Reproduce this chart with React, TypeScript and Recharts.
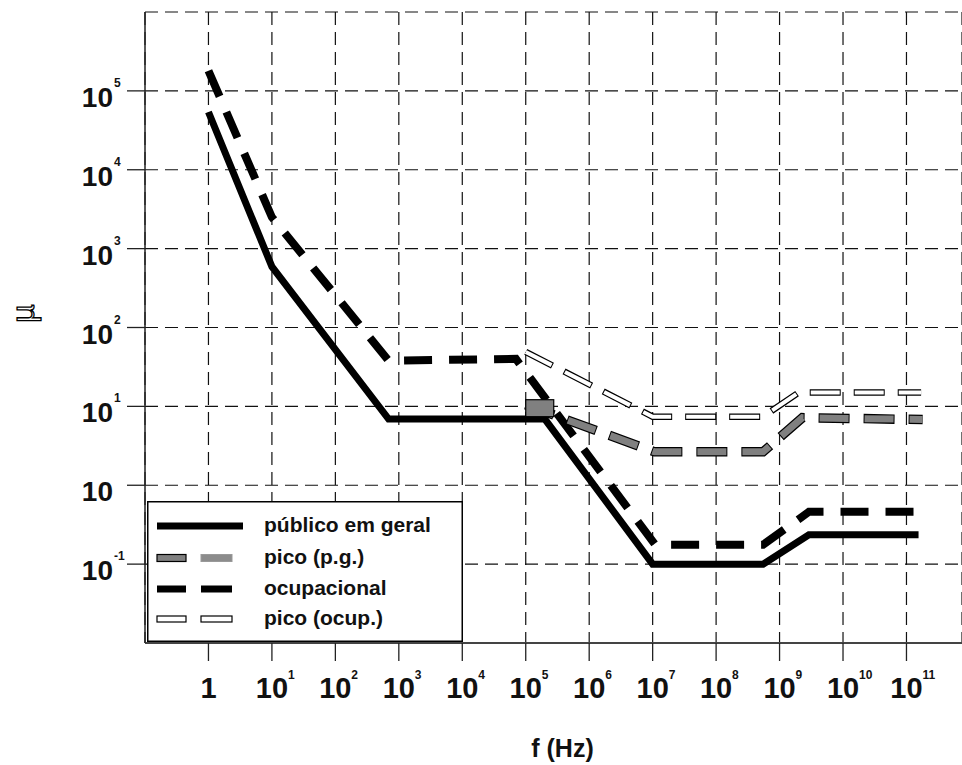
import { LineChart, Line, XAxis, YAxis, CartesianGrid, Legend } from "recharts"

const FONT = "'Liberation Sans', Arial, Helvetica, sans-serif"

// tick values (log scales)
const xTicks = [1, 1e1, 1e2, 1e3, 1e4, 1e5, 1e6, 1e7, 1e8, 1e9, 1e10, 1e11]
const yTicks = [1e6, 1e5, 1e4, 1e3, 1e2, 1e1, 1, 1e-1]

// público em geral
const publicoF = [1, 10, 690, 2e5, 1e7, 5.5e8, 2.9e9, 1.55e11]
const publicoV = [5.4e4, 590, 6.9, 6.9, 0.1, 0.1, 0.235, 0.235]

// ocupacional
const ocupF = [1, 10, 690, 7e4, 1.1e7, 5.5e8, 2.9e9, 1.55e11]
const ocupV = [1.8e5, 2500, 38, 40, 0.176, 0.176, 0.46, 0.46]

// pico (p.g.)
const picoPgF = [1e5, 1.07e7, 5.5e8, 2.3e9, 1.8e11]
const picoPgV = [10.5, 2.65, 2.65, 7.2, 6.8]

// pico (ocup.)
const picoOcF = [1e5, 1e7, 5.5e8, 2e9, 1.7e11]
const picoOcV = [49, 7.4, 7.4, 15, 15]

const seriesNames = ["público em geral", "pico (p.g.)", "ocupacional", "pico (ocup.)"]

const toRows = (f: number[], v: number[]) => f.map((x, i) => ({ f: x, v: v[i] }))

const publico = toRows(publicoF, publicoV)
const ocup = toRows(ocupF, ocupV)
const picoPg = toRows(picoPgF, picoPgV)
const picoOc = toRows(picoOcF, picoOcV)

function XTick({ x, y, payload }: any) {
  const exp = Math.round(Math.log10(payload.value))
  return (
    <g>
      <line x1={x} x2={x} y1={y} y2={y + 18} stroke="#222" strokeWidth={1.3} />
      <text x={x} y={y + 55} textAnchor="middle" fontSize={29} fontWeight="bold" fontFamily={FONT} fill="#111">
        {exp === 0 ? "1" : "10"}
      </text>
      {exp !== 0 && (
        <text x={x + 16} y={y + 36} fontSize={12} fontWeight="bold" fontFamily={FONT} fill="#111">
          {exp}
        </text>
      )}
    </g>
  )
}

function YTick({ x, y, payload }: any) {
  const exp = Math.round(Math.log10(payload.value))
  if (exp === 6) return <g />
  return (
    <g>
      <line x1={x - 18} x2={x} y1={y} y2={y} stroke="#222" strokeWidth={1.3} />
      <text x={x - 32} y={y + 16} textAnchor="end" fontSize={28} fontWeight="bold" fontFamily={FONT} fill="#111">
        10
      </text>
      {exp !== 0 && (
        <text x={x - 31} y={y - 4} fontSize={12} fontWeight="bold" fontFamily={FONT} fill="#111">
          {exp}
        </text>
      )}
    </g>
  )
}

function MuLabel({ viewBox }: any) {
  const cx = viewBox.x + 23
  const cy = viewBox.y + viewBox.height / 2 - 14
  return (
    <text
      x={cx}
      y={cy}
      transform={`rotate(-90 ${cx} ${cy})`}
      textAnchor="middle"
      dominantBaseline="central"
      fontSize={32}
      fontFamily={FONT}
      fill="#fff"
      stroke="#000"
      strokeWidth={1.3}
    >
      µ
    </text>
  )
}

function LegendBox() {
  const rows = [25, 57, 88, 118]
  return (
    <svg width={316} height={141} style={{ display: "block" }}>
      <rect x={0.75} y={0.75} width={314.5} height={139.5} fill="#fff" stroke="#000" strokeWidth={1.5} />
      <line x1={10} x2={96} y1={rows[0]} y2={rows[0]} stroke="#000" strokeWidth={7} />
      <rect x={10} y={rows[1] - 3.5} width={29} height={7} fill="#808080" stroke="#000" strokeWidth={1.2} />
      <rect x={54} y={rows[1] - 3.5} width={31} height={7} fill="#8c8c8c" stroke="#999" strokeWidth={1} />
      <rect x={10} y={rows[2] - 3.5} width={29} height={7} fill="#000" />
      <rect x={54} y={rows[2] - 3.5} width={31} height={7} fill="#000" />
      <rect x={10} y={rows[3] - 3} width={29} height={6} fill="#fff" stroke="#000" strokeWidth={1.2} />
      <rect x={54} y={rows[3] - 3} width={31} height={6} fill="#fff" stroke="#000" strokeWidth={1.2} />
      {seriesNames.map((name, i) => (
        <text key={name} x={117} y={rows[i] + 6} fontSize={21} fontWeight="bold" fontFamily={FONT} fill="#111">
          {name}
        </text>
      ))}
    </svg>
  )
}

const squareDot = (p: any) =>
  p.index === 0 ? (
    <rect key="sq" x={p.cx} y={p.cy - 5} width={28} height={17} fill="#808080" stroke="#000" strokeWidth={1.2} />
  ) : (
    <g key={`d${p.index}`} />
  )

export default function App() {
  return (
    <div style={{ position: "absolute", left: 0, top: 0, background: "#fff" }}>
      <LineChart width={962} height={765} margin={{ top: 12, right: 0, bottom: 0, left: 0 }}>
        <CartesianGrid stroke="#111" strokeWidth={1.2} strokeDasharray="13 7" />
        <XAxis
          type="number"
          dataKey="f"
          scale="log"
          domain={[0.1, 7.5e11]}
          allowDataOverflow
          ticks={xTicks}
          interval={0}
          height={122}
          tickLine={false}
          tickSize={0}
          tickMargin={0}
          tick={<XTick />}
          axisLine={{ stroke: "#444", strokeWidth: 2 }}
          label={{
            value: "f (Hz)",
            position: "insideBottom",
            offset: 8,
            dx: 9,
            fontSize: 25,
            fontWeight: "bold",
            fontFamily: FONT,
            fill: "#111",
          }}
        />
        <YAxis
          type="number"
          dataKey="v"
          scale="log"
          domain={[0.01, 1e6]}
          allowDataOverflow
          ticks={yTicks}
          interval={0}
          width={145}
          tickLine={false}
          tickSize={0}
          tickMargin={0}
          tick={<YTick />}
          axisLine={{ stroke: "#222", strokeWidth: 1.5 }}
          label={{ content: (props: any) => <MuLabel {...props} /> }}
        />
        <Legend
          layout="vertical"
          align="center"
          verticalAlign="middle"
          content={() => <LegendBox />}
          wrapperStyle={{ position: "absolute", left: 147, top: 501, width: 316, height: 141 }}
        />
        <Line data={publico} dataKey="v" type="linear" stroke="#000" strokeWidth={7} dot={false} isAnimationActive={false} legendType="none" />
        <Line data={ocup} dataKey="v" type="linear" stroke="#000" strokeWidth={8} strokeDasharray="28 17" dot={false} isAnimationActive={false} />
        <Line data={picoPg} dataKey="v" type="linear" stroke="#000" strokeWidth={9.5} strokeDasharray="31 14" strokeDashoffset={1} dot={false} isAnimationActive={false} />
        <Line data={picoPg} dataKey="v" type="linear" stroke="#808080" strokeWidth={7} strokeDasharray="29 16" dot={squareDot} isAnimationActive={false} />
        <Line data={picoOc} dataKey="v" type="linear" stroke="#000" strokeWidth={6.5} strokeDasharray="31 13" strokeDashoffset={1} dot={false} isAnimationActive={false} />
        <Line data={picoOc} dataKey="v" type="linear" stroke="#fff" strokeWidth={4} strokeDasharray="29 15" dot={false} isAnimationActive={false} />
      </LineChart>
    </div>
  )
}
